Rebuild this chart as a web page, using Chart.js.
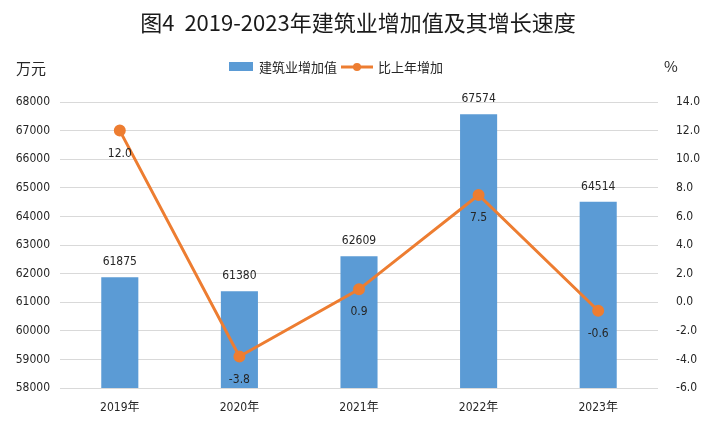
<!DOCTYPE html>
<html>
<head>
<meta charset="utf-8">
<script src="https://cdn.jsdelivr.net/npm/chart.js@4.4.0/dist/chart.umd.min.js"></script>
<style>
  html, body { margin: 0; padding: 0; background: #fff; }
  #wrap { width: 710px; height: 429px; position: relative; }
</style>
</head>
<body>
<div id="wrap"><canvas id="chart"></canvas></div>
<script>
const years = ['2019年', '2020年', '2021年', '2022年', '2023年'];
const addedValue = [61875, 61380, 62609, 67574, 64514];
const growth = [12.0, -3.8, 0.9, 7.5, -0.6];
const leftTicks = { min: 58000, max: 68000, step: 1000 };
const rightTicks = { min: -6, max: 14, step: 2 };

const tickFont = "'Liberation Sans Narrow', 'DejaVu Sans Condensed', 'Noto Sans CJK SC', sans-serif";
const cjkFont = "'Noto Sans CJK SC', sans-serif";
const blue = '#5B9BD5';
const orange = '#ED7D31';

// labels, title, legend and unit texts
const extras = {
    id: 'extras',
    afterDatasetsDraw(chart) {
        const ctx = chart.ctx;
        ctx.save();
        ctx.fillStyle = '#262626';
        ctx.textAlign = 'center';
        ctx.textBaseline = 'middle';
        ctx.font = '12px ' + tickFont;
        chart.getDatasetMeta(0).data.forEach((bar, i) => {
            ctx.fillText(addedValue[i], bar.x, bar.y - 15);
        });
        chart.getDatasetMeta(1).data.forEach((pt, i) => {
            ctx.fillText(growth[i].toFixed(1), pt.x, pt.y + 23);
        });

        // title
        ctx.font = '22px ' + cjkFont;
        ctx.fillStyle = '#1a1a1a';
        ctx.fillText('图4  2019-2023年建筑业增加值及其增长速度', 358, 23);

        // units
        ctx.font = '15px ' + cjkFont;
        ctx.fillStyle = '#262626';
        ctx.fillText('万元', 31, 68);
        ctx.fillText('%', 671, 66);

        // legend
        ctx.font = '13px ' + cjkFont;
        ctx.textAlign = 'left';
        ctx.fillStyle = blue;
        ctx.fillRect(229, 62, 24, 9);
        ctx.fillStyle = '#262626';
        ctx.fillText('建筑业增加值', 259, 67);
        ctx.strokeStyle = orange;
        ctx.lineWidth = 3;
        ctx.beginPath();
        ctx.moveTo(341, 67);
        ctx.lineTo(373, 67);
        ctx.stroke();
        ctx.fillStyle = orange;
        ctx.beginPath();
        ctx.arc(357, 67, 4, 0, Math.PI * 2);
        ctx.fill();
        ctx.fillStyle = '#262626';
        ctx.fillText('比上年增加', 378, 67);
        ctx.restore();
    }
};

new Chart(document.getElementById('chart'), {
    type: 'bar',
    data: {
        labels: years,
        datasets: [
            {
                label: '建筑业增加值',
                data: addedValue,
                backgroundColor: blue,
                yAxisID: 'y',
                categoryPercentage: 1,
                barPercentage: 0.31,
                order: 2
            },
            {
                type: 'line',
                label: '比上年增加',
                data: growth,
                borderColor: orange,
                backgroundColor: orange,
                borderWidth: 3,
                pointRadius: 4.5,
                pointHoverRadius: 4.5,
                yAxisID: 'y1',
                order: 1
            }
        ]
    },
    options: {
        responsive: true,
        maintainAspectRatio: false,
        animation: false,
        layout: { padding: { top: 102, left: 0, right: 0, bottom: 0 } },
        plugins: {
            legend: { display: false },
            tooltip: { enabled: false }
        },
        scales: {
            x: {
                grid: { display: false },
                border: { display: false },
                ticks: { color: '#262626', font: { size: 12, family: tickFont }, padding: 5 },
                afterFit: s => { s.height = 41; }
            },
            y: {
                position: 'left',
                min: leftTicks.min,
                max: leftTicks.max,
                ticks: {
                    stepSize: leftTicks.step,
                    color: '#262626',
                    font: { size: 12, family: tickFont },
                    padding: 10,
                    callback: v => String(v)
                },
                grid: { color: '#D9D9D9', lineWidth: 1, drawTicks: false },
                border: { display: false },
                afterFit: s => { s.width = 60; }
            },
            y1: {
                position: 'right',
                min: rightTicks.min,
                max: rightTicks.max,
                ticks: {
                    stepSize: rightTicks.step,
                    color: '#262626',
                    font: { size: 12, family: tickFont },
                    padding: 10,
                    callback: v => Number(v).toFixed(1)
                },
                grid: { display: false },
                border: { display: false },
                afterFit: s => { s.width = 52; }
            }
        }
    },
    plugins: [extras]
});
</script>
</body>
</html>
